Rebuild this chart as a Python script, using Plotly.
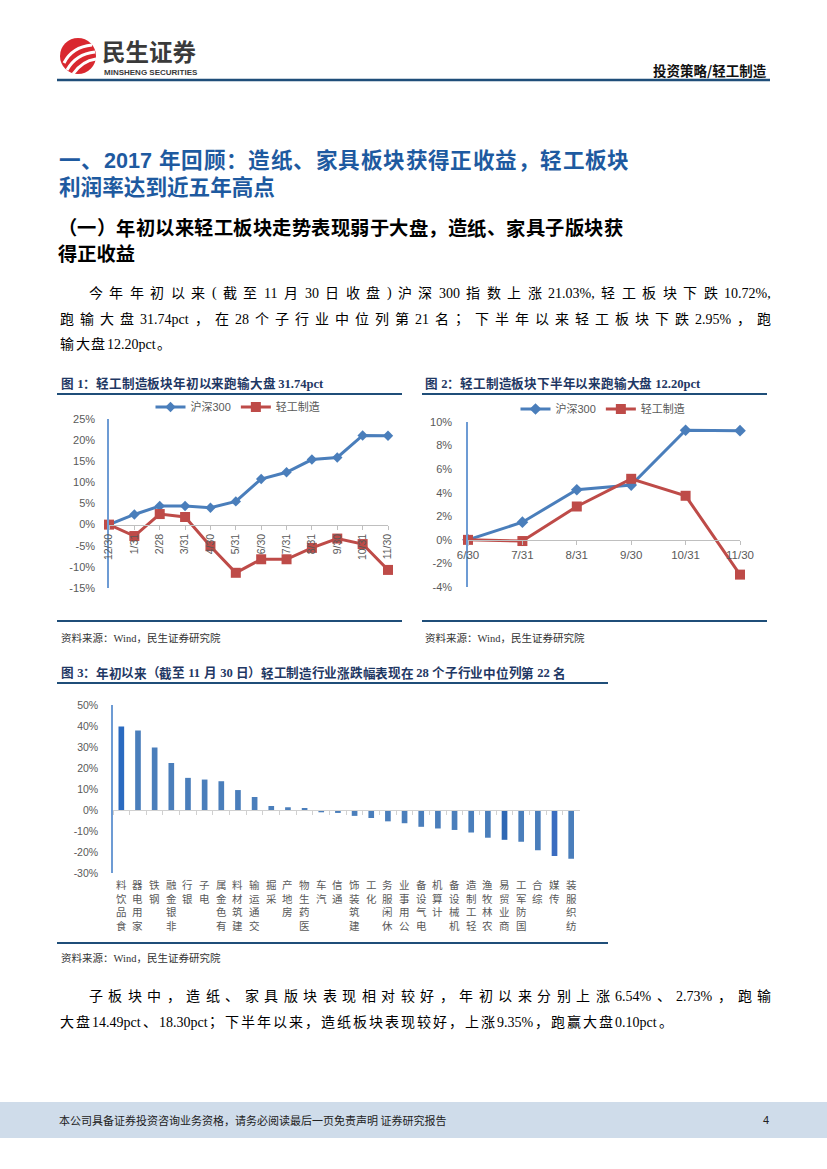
import plotly.graph_objects as go

W, H = 827, 1169

# ---------------- data ----------------
series_names = ["沪深300", "轻工制造"]

c1_dates = ["12/30", "1/31", "2/28", "3/31", "4/30", "5/31", "6/30", "7/31", "8/31", "9/30", "10/31", "11/30"]
c1_hs300 = [0, 2.4, 4.4, 4.4, 4.0, 5.5, 10.8, 12.4, 15.4, 15.9, 21.1, 21.03]
c1_light = [0, -2.7, 2.5, 1.8, -5.1, -11.4, -8.2, -8.2, -5.5, -3.3, -4.6, -10.72]

c2_dates = ["6/30", "7/31", "8/31", "9/30", "10/31", "11/30"]
c2_hs300 = [0, 1.5, 4.25, 4.65, 9.3, 9.26]
c2_light = [0, -0.1, 2.83, 5.18, 3.74, -2.95]

c3_industries = ["食品饮料", "家用电器", "钢铁", "非银金融", "银行", "电子", "有色金属", "建筑材料",
                 "交通运输", "采掘", "房地产", "医药生物", "汽车", "通信", "建筑装饰", "化工",
                 "休闲服务", "公用事业", "电气设备", "计算机", "机械设备", "轻工制造", "农林牧渔",
                 "商业贸易", "国防军工", "综合", "传媒", "纺织服装"]
c3_returns = [39.8, 37.9, 29.8, 22.4, 15.3, 14.5, 13.7, 9.5, 6.2, 1.9, 1.3, 0.9, -1.1, -1.4,
              -2.8, -3.8, -5.4, -6.3, -8.0, -8.8, -9.5, -10.72, -13.2, -14.2, -15.1, -19.2, -21.9, -23.2]

c1_ticks = [-15, -10, -5, 0, 5, 10, 15, 20, 25]
c2_ticks = [-4, -2, 0, 2, 4, 6, 8, 10]
c3_ticks = [-30, -20, -10, 0, 10, 20, 30, 40, 50]

# ---------------- styles ----------------
BLUE = "#4A7EBB"
RED = "#BE4B48"
AXIS_BLUE = "#6D9BD4"
GRAY_AX = "#BFBFBF"
TICK_C = "#595959"
NAVY = "#1F4E79"
SANS = "Liberation Sans, Noto Sans CJK SC"
SERIF = "Liberation Serif, Noto Sans CJK SC"
CJK = "Noto Sans CJK SC"


def px(x):
    return x / W


def py(y):
    return 1 - y / H


annotations = []
shapes = []


def ann(text, x, y, size, color="#000000", family=SERIF, xanchor="left", yanchor="middle", bold=False):
    annotations.append(dict(
        xref="paper", yref="paper", x=px(x), y=py(y), text=("<b>%s</b>" % text) if bold else text,
        showarrow=False, xanchor=xanchor, yanchor=yanchor, borderpad=0, align="left",
        font=dict(size=size, color=color, family=family)))


def hline(x0, x1, y, color=NAVY, width=2):
    shapes.append(dict(type="line", xref="paper", yref="paper", x0=px(x0), x1=px(x1),
                       y0=py(y), y1=py(y), line=dict(color=color, width=width)))


LAT_W = {'.': 0.25, ',': 0.25, '%': 0.833, 'p': 0.5, 'c': 0.444, 't': 0.278, '(': 0.333, ')': 0.333,
         ' ': 0.25, 'W': 0.944, 'i': 0.278, 'n': 0.5, 'd': 0.5}


def tokens(s):
    out, buf = [], ""
    for ch in s:
        if ord(ch) < 128:
            buf += ch
        else:
            if buf:
                out.append(buf)
                buf = ""
            out.append(ch)
    if buf:
        out.append(buf)
    return out


def tok_w(t, size, lat_scale):
    if ord(t[0]) >= 128:
        return size
    return sum(LAT_W.get(c, 0.5) for c in t) * size * lat_scale


def text_line(s, x0, y, size, x1=None, gap=2.0, color="#000000", family=SERIF, bold=False, lat_scale=1.0):
    toks = tokens(s)
    ws = [tok_w(t, size, lat_scale) for t in toks]
    if x1 is not None and len(toks) > 1:
        gap = (x1 - x0 - sum(ws)) / (len(toks) - 1)
    x = x0
    for t, w in zip(toks, ws):
        ann(t, x, y, size, color=color, family=family, bold=bold)
        x += w + gap


# ---------------- header ----------------
shapes.append(dict(type="circle", xref="paper", yref="paper", x0=px(60), x1=px(96), y0=py(74), y1=py(38),
                   fillcolor="#D9282F", line=dict(width=0)))


def ppath(pts):
    (a, b), (c, d), (e, f) = pts
    return "M %f %f Q %f %f %f %f" % (px(a), py(b), px(c), py(d), px(e), py(f))


for pts in [[(64, 63), (72, 47), (92, 45)], [(67, 70), (76, 54), (95, 52)], [(73, 74), (82, 61), (96, 59)]]:
    shapes.append(dict(type="path", xref="paper", yref="paper", path=ppath(pts),
                       line=dict(color="white", width=3)))

ann("民生证券", 101, 51.5, 23.5, color="#3A3A3A", family=CJK, bold=True)
ann("MINSHENG SECURITIES", 103, 73, 8, color="#3A3A3A", family="Liberation Sans", bold=True)
ann("投资策略/轻工制造", 768, 70, 13.5, color="#111111", family=CJK, bold=True, xanchor="right")
hline(57, 770, 80, color=NAVY, width=2.5)

# ---------------- headings & paragraph ----------------
text_line("一、2017 年回顾：造纸、家具板块获得正收益，轻工板块", 58, 161, 21.6, x1=628,
          color="#1E5AA0", family=SANS, bold=True, lat_scale=1.112)
ann("利润率达到近五年高点", 58, 188, 21.6, color="#1E5AA0", family=SANS, bold=True)
text_line("（一）年初以来轻工板块走势表现弱于大盘，造纸、家具子版块获", 57, 229, 19.3, x1=622,
          color="#000000", family=SANS, bold=True)
ann("得正收益", 57, 255, 19.3, color="#000000", family=SANS, bold=True)

text_line("今年年初以来(截至11月30日收盘)沪深300指数上涨21.03%,轻工板块下跌10.72%,", 88, 293, 14, x1=770)
text_line("跑输大盘31.74pct，在28个子行业中位列第21名；下半年以来轻工板块下跌2.95%，跑", 59, 319, 14, x1=770)
text_line("输大盘12.20pct。", 59, 344, 14, gap=1.6)

# ---------------- chart titles / rules / sources ----------------
text_line("图 1：轻工制造板块年初以来跑输大盘 31.74pct", 60, 384, 12.6, gap=0.2, color="#1F3864", bold=True)
text_line("图 2：轻工制造板块下半年以来跑输大盘 12.20pct", 424, 384, 12.6, gap=0.2, color="#1F3864", bold=True)
hline(57, 402, 394)
hline(422, 767, 394)
hline(57, 402, 621)
hline(422, 767, 621)
ann("资料来源：Wind，民生证券研究院", 60, 638, 10.5, color="#333333")
ann("资料来源：Wind，民生证券研究院", 424, 638, 10.5, color="#333333")

text_line("图 3：年初以来（截至 11 月 30 日）轻工制造行业涨跌幅表现在 28 个子行业中位列第 22 名", 60, 673, 12.6,
          gap=0.1, color="#1F3864", bold=True)
hline(57, 608, 683)
hline(57, 608, 943)
ann("资料来源：Wind，民生证券研究院", 60, 958, 10.5, color="#333333")

text_line("子板块中，造纸、家具版块表现相对较好，年初以来分别上涨6.54%、2.73%，跑输", 88, 996, 14, x1=770)
text_line("大盘14.49pct、18.30pct；下半年以来，造纸板块表现较好，上涨9.35%，跑赢大盘0.10pct。", 59, 1022, 14, gap=2.0)

# ---------------- footer ----------------
shapes.append(dict(type="rect", xref="paper", yref="paper", x0=0, x1=1, y0=py(1138), y1=py(1102),
                   fillcolor="#CFDCEA", line=dict(width=0), layer="below"))
ann("本公司具备证券投资咨询业务资格，请务必阅读最后一页免责声明 证券研究报告", 58, 1120, 11, color="#222222", family=CJK)
ann("4", 766, 1120, 11, color="#222222", family=SANS, xanchor="center")

# ---------------- traces ----------------
fig = go.Figure()

fig.add_trace(go.Scatter(x=c1_dates, y=c1_hs300, name=series_names[0], mode="lines+markers",
                         line=dict(color=BLUE, width=3), marker=dict(symbol="diamond", size=8, color=BLUE),
                         xaxis="x", yaxis="y", legend="legend", cliponaxis=False))
fig.add_trace(go.Scatter(x=c1_dates, y=c1_light, name=series_names[1], mode="lines+markers",
                         line=dict(color=RED, width=3), marker=dict(symbol="square", size=10, color=RED),
                         xaxis="x", yaxis="y", legend="legend", cliponaxis=False))
fig.add_trace(go.Scatter(x=c2_dates, y=c2_hs300, name=series_names[0], mode="lines+markers",
                         line=dict(color=BLUE, width=3), marker=dict(symbol="diamond", size=9, color=BLUE),
                         xaxis="x2", yaxis="y2", legend="legend2", cliponaxis=False))
fig.add_trace(go.Scatter(x=c2_dates, y=c2_light, name=series_names[1], mode="lines+markers",
                         line=dict(color=RED, width=3), marker=dict(symbol="square", size=10, color=RED),
                         xaxis="x2", yaxis="y2", legend="legend2", cliponaxis=False))

dark_bars = {"食品饮料": "#2A6AC0", "商业贸易": "#2F68B4", "传媒": "#3A6CC0"}
bar_colors = [dark_bars.get(n, BLUE) for n in c3_industries]
fig.add_trace(go.Bar(x=c3_industries, y=c3_returns, marker=dict(color=bar_colors, line=dict(width=0)),
                     width=0.34, xaxis="x3", yaxis="y3", showlegend=False))

# chart 3 category labels: upright characters stacked, read bottom-to-top
for name in c3_industries:
    annotations.append(dict(xref="x3", yref="paper", x=name, y=py(876), yanchor="top", xanchor="center",
                            text="<br>".join(reversed(name)), showarrow=False, align="center", borderpad=0,
                            font=dict(size=10.5, color=TICK_C, family=CJK)))

tickfont = dict(size=10.5, color=TICK_C, family=SANS)

fig.update_layout(
    width=W, height=H, margin=dict(l=0, r=0, t=0, b=0, pad=0, autoexpand=False),
    paper_bgcolor="white", plot_bgcolor="rgba(0,0,0,0)",
    font=dict(family=SANS, color=TICK_C),
    showlegend=True,
    # chart 1
    xaxis=dict(domain=[px(109), px(388)], type="category", categoryorder="array", categoryarray=c1_dates,
               range=[0, 11], anchor="free", position=py(419 + 25 * 169 / 40), automargin=False,
               showline=True, linecolor=GRAY_AX, linewidth=1, ticks="outside", ticklen=4, tickcolor=GRAY_AX,
               tickangle=-90, tickfont=tickfont, showgrid=False, zeroline=False),
    yaxis=dict(domain=[py(588), py(419)], range=[-15, 25], tickvals=c1_ticks, automargin=False,
               ticktext=["%d%%" % v for v in c1_ticks], anchor="x",
               showline=True, linecolor=AXIS_BLUE, linewidth=1.5, ticks="", ticklabelstandoff=10,
               tickfont=dict(size=11, color=TICK_C, family=SANS), showgrid=False, zeroline=False),
    # chart 2
    xaxis2=dict(domain=[px(468), px(740)], type="category", categoryorder="array", categoryarray=c2_dates,
                range=[0, 5], anchor="free", position=py(422 + 10 * 165 / 14), automargin=False,
                showline=True, linecolor=GRAY_AX, linewidth=1, ticks="outside", ticklen=4, tickcolor=GRAY_AX,
                tickangle=0, tickfont=dict(size=11.5, color=TICK_C, family=SANS), showgrid=False, zeroline=False),
    yaxis2=dict(domain=[py(587), py(422)], range=[-4, 10], tickvals=c2_ticks, automargin=False,
                ticktext=["%d%%" % v for v in c2_ticks], anchor="x2",
                showline=True, linecolor=AXIS_BLUE, linewidth=1.5, ticks="", ticklabelstandoff=12,
                tickfont=dict(size=11, color=TICK_C, family=SANS), showgrid=False, zeroline=False),
    # chart 3
    xaxis3=dict(domain=[px(113), px(579.5)], type="category", categoryorder="array", categoryarray=c3_industries,
                range=[-0.5, 27.5], anchor="free", position=py(705 + 50 * 168 / 80), automargin=False,
                showline=True, linecolor="#D0D0D0", linewidth=1, ticks="outside", ticklen=4, tickcolor="#D0D0D0",
                tickson="boundaries", showticklabels=False, showgrid=False, zeroline=False),
    yaxis3=dict(domain=[py(873), py(705)], range=[-30, 50], tickvals=c3_ticks, automargin=False,
                ticktext=["%d%%" % v for v in c3_ticks], anchor="x3",
                showline=True, linecolor=AXIS_BLUE, linewidth=1.5, ticks="", ticklabelstandoff=11,
                tickfont=dict(size=10.5, color=TICK_C, family=SANS), showgrid=False, zeroline=False),
    legend=dict(orientation="h", x=px(238), xanchor="center", y=py(407), yanchor="middle",
                font=dict(size=11, color=TICK_C, family=SANS), bgcolor="rgba(0,0,0,0)",
                itemwidth=30, tracegroupgap=0),
    legend2=dict(orientation="h", x=px(603), xanchor="center", y=py(409), yanchor="middle",
                 font=dict(size=11, color=TICK_C, family=SANS), bgcolor="rgba(0,0,0,0)",
                 itemwidth=30, tracegroupgap=0),
    annotations=annotations,
    shapes=shapes,
)

fig.write_html("out.html", config={"displayModeBar": False},
               post_script="document.body.style.margin='0';document.body.style.overflow='hidden';")
